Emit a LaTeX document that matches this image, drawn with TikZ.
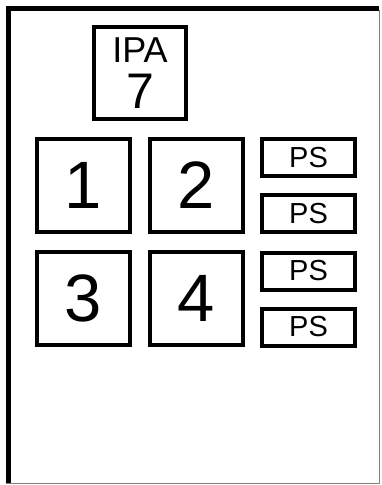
\documentclass[tikz,border=0pt]{standalone}
\usepackage{fontspec}
\setmainfont{Liberation Sans}
\usepackage{tikz}

\begin{document}
\begin{tikzpicture}[x=1pt,y=-1pt,
    box/.style={draw,line width=4pt,inner sep=0pt,minimum width=93pt,minimum height=93pt,font=\fontsize{67}{67}\selectfont},
    psbox/.style={draw,line width=4pt,inner sep=0pt,minimum width=93pt,minimum height=37pt,font=\fontsize{29}{29}\selectfont}]
    \useasboundingbox (0,0) rectangle (381,485);
    % outer frame
    \draw[black!50,line width=1pt] (379.5,10) -- (379.5,483.5) -- (6,483.5);
    \draw[line width=5pt] (8.5,483) -- (8.5,8) -- (379,8);
    \draw[line width=4pt] (6,8) -- (379,8);
    % IPA 7
    \node[box,minimum width=92pt,minimum height=92pt] (ipa) at (140,73) {};
    \node[anchor=base,inner sep=0pt,font=\fontsize{36}{36}\selectfont] (ipatxt) at (140,62) {IPA};
    \node[anchor=base,inner sep=0pt,font=\fontsize{50}{50}\selectfont] (ipanum) at (140,108) {7};
    % blocks
    \node[box] (b1) at (83.5,185.5) {1};
    \node[box] (b2) at (196,185.5) {2};
    \node[box] (b3) at (83.5,298.5) {3};
    \node[box] (b4) at (196,298.5) {4};
    \node[psbox] (ps1) at (308.5,157.5) {PS};
    \node[psbox] (ps2) at (308.5,213.5) {PS};
    \node[psbox] (ps3) at (308.5,271) {PS};
    \node[psbox] (ps4) at (308.5,327) {PS};
\end{tikzpicture}
\end{document}
